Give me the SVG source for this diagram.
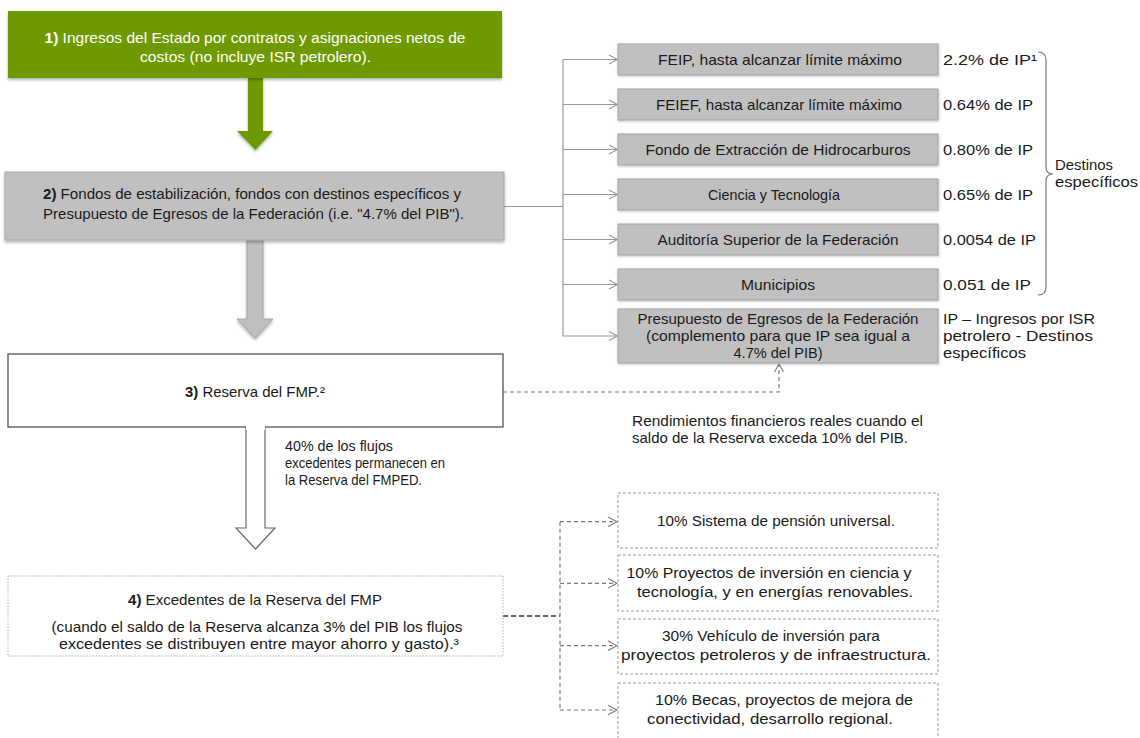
<svg xmlns="http://www.w3.org/2000/svg" width="1140" height="738" viewBox="0 0 1140 738">
<defs>
<style>
text{font-family:"Liberation Sans",Arial,sans-serif;font-size:15px;fill:#1a1a1a}
.c{text-anchor:middle}
.w{fill:#ffffff}
.b{font-weight:bold}
.gbox{fill:#c0c0c0;stroke:#a3a3a3;stroke-width:1}
.dbox{fill:#ffffff;stroke:#9c9c9c;stroke-width:1;stroke-dasharray:3 2}
.ln{fill:none;stroke:#9a9a9a;stroke-width:1.2}
.dl{fill:none;stroke:#7a7a7a;stroke-width:1.2;stroke-dasharray:4 3}
.ch{fill:none;stroke-width:1.1}
</style>
<filter id="sh" x="-5%" y="-10%" width="110%" height="140%">
<feDropShadow dx="0" dy="2" stdDeviation="1.5" flood-color="#000" flood-opacity="0.3"/>
</filter>
<filter id="sh2" x="-5%" y="-10%" width="110%" height="140%">
<feDropShadow dx="0.5" dy="1" stdDeviation="0.8" flood-color="#000" flood-opacity="0.25"/>
</filter>
</defs>
<rect width="1140" height="738" fill="#ffffff"/>

<g id="connectors">
<polygon points="248,77 263,77 263,131 273,131 255.5,150 237,131 248,131" fill="#6e9a02" filter="url(#sh)"/>
<polygon points="247,240 263,240 263,319 273,319 255,338 237,319 247,319" fill="#bfbfbf" stroke="#a5a5a5" stroke-width="1" filter="url(#sh)"/>
<path d="M246,424 L246,528 L236,528 L255.5,549 L275,528 L265,528 L265,424 Z" fill="#ffffff" stroke="none"/>
<path d="M246,427 L246,528 L236,528 L255.5,549 L275,528 L265,528 L265,427" fill="none" stroke="#6a6a6a" stroke-width="1.2"/>
<path class="ln" d="M504,206.5 H563 M563,59.5 V336 M563,59.5 H617 M563,104.5 H617 M563,149.5 H617 M563,194.5 H617 M563,239.5 H617 M563,284.5 H617 M563,336 H617"/>
<g class="ch" stroke="#9a9a9a">
<polyline points="609,55 617.5,59.5 609,64"/>
<polyline points="609,100 617.5,104.5 609,109"/>
<polyline points="609,145 617.5,149.5 609,154"/>
<polyline points="609,190 617.5,194.5 609,199"/>
<polyline points="609,235 617.5,239.5 609,244"/>
<polyline points="609,280 617.5,284.5 609,289"/>
<polyline points="609,331.5 617.5,336 609,340.5"/>
</g>
<path class="dl" d="M503,392 H779 V365"/>
<polyline class="ch" stroke="#7a7a7a" points="774.5,372 779,364 783.5,372"/>
<path d="M503,616 H560" fill="none" stroke="#333333" stroke-width="1.5" stroke-dasharray="5 3"/>
<path class="dl" d="M560,521.7 V710 M560,521.7 H616 M560,583.3 H616 M560,645.7 H616 M560,710 H616"/>
<g class="ch" stroke="#7a7a7a">
<polyline points="608,517 617,521.7 608,526.4"/>
<polyline points="608,578.6 617,583.3 608,588"/>
<polyline points="608,641 617,645.7 608,650.4"/>
<polyline points="608,705.3 617,710 608,714.7"/>
</g>
<path d="M1038,52 Q1046,52 1046,60 V167 Q1046,174 1053,174 Q1046,174 1046,181 V287 Q1046,295 1038,295" fill="none" stroke="#777777" stroke-width="1.2"/>
</g>

<g id="n1">
<rect x="8" y="11" width="494" height="67" fill="#6e9a02" filter="url(#sh)"/>
<text class="c w" x="255" y="43" textLength="421" lengthAdjust="spacingAndGlyphs"><tspan class="b w">1)</tspan> Ingresos del Estado por contratos y asignaciones netos de</text>
<text class="c w" x="255.5" y="62" textLength="231" lengthAdjust="spacingAndGlyphs">costos (no incluye ISR petrolero).</text>
</g>

<g id="n2">
<rect x="5" y="172" width="499" height="68" fill="#c0c0c0" stroke="#a8a8a8" stroke-width="1" filter="url(#sh)"/>
<text class="c" x="252" y="199" textLength="418" lengthAdjust="spacingAndGlyphs"><tspan class="b">2)</tspan> Fondos de estabilización, fondos con destinos específicos y</text>
<text class="c" x="253.5" y="219" textLength="421" lengthAdjust="spacingAndGlyphs">Presupuesto de Egresos de la Federación (i.e. "4.7% del PIB").</text>
</g>

<g id="n3">
<rect x="8" y="354" width="495" height="73" fill="#ffffff" stroke="#454545" stroke-width="1.2"/>
<text class="c" x="255" y="397" textLength="140" lengthAdjust="spacingAndGlyphs"><tspan class="b">3)</tspan> Reserva del FMP.²</text>
</g>
<path d="M246,424 L246,430 L265,430 L265,424 Z" fill="#ffffff"/>

<g id="n3note">
<text x="285" y="451" textLength="108" lengthAdjust="spacingAndGlyphs">40% de los flujos</text>
<text x="285" y="468" textLength="160" lengthAdjust="spacingAndGlyphs">excedentes permanecen en</text>
<text x="285" y="485" textLength="137" lengthAdjust="spacingAndGlyphs">la Reserva del FMPED.</text>
</g>

<g id="n4">
<rect x="8" y="576" width="495" height="80" fill="#ffffff" stroke="#b0b0b0" stroke-width="1" stroke-dasharray="1.5 1.5"/>
<text class="c" x="255" y="605" textLength="254" lengthAdjust="spacingAndGlyphs"><tspan class="b">4)</tspan> Excedentes de la Reserva del FMP</text>
<text class="c" x="257" y="632" textLength="411" lengthAdjust="spacingAndGlyphs">(cuando el saldo de la Reserva alcanza 3% del PIB los flujos</text>
<text class="c" x="259" y="649" textLength="400" lengthAdjust="spacingAndGlyphs">excedentes se distribuyen entre mayor ahorro y gasto).³</text>
</g>

<g id="r1">
<rect class="gbox" x="618" y="44" width="320" height="31" filter="url(#sh2)"/>
<text class="c" x="780" y="64.5" textLength="244" lengthAdjust="spacingAndGlyphs">FEIP, hasta alcanzar límite máximo</text>
<text x="943" y="65" textLength="94" lengthAdjust="spacingAndGlyphs">2.2% de IP¹</text>
</g>
<g id="r2">
<rect class="gbox" x="618" y="89" width="320" height="31" filter="url(#sh2)"/>
<text class="c" x="779" y="109.5" textLength="246" lengthAdjust="spacingAndGlyphs">FEIEF, hasta alcanzar límite máximo</text>
<text x="943" y="110" textLength="90" lengthAdjust="spacingAndGlyphs">0.64% de IP</text>
</g>
<g id="r3">
<rect class="gbox" x="618" y="134" width="320" height="31" filter="url(#sh2)"/>
<text class="c" x="778" y="154.5" textLength="265" lengthAdjust="spacingAndGlyphs">Fondo de Extracción de Hidrocarburos</text>
<text x="943" y="155" textLength="90" lengthAdjust="spacingAndGlyphs">0.80% de IP</text>
</g>
<g id="r4">
<rect class="gbox" x="618" y="179" width="320" height="31" filter="url(#sh2)"/>
<text class="c" x="774" y="199.5" textLength="132" lengthAdjust="spacingAndGlyphs">Ciencia y Tecnología</text>
<text x="943" y="200" textLength="90" lengthAdjust="spacingAndGlyphs">0.65% de IP</text>
</g>
<g id="r5">
<rect class="gbox" x="618" y="224" width="320" height="31" filter="url(#sh2)"/>
<text class="c" x="778" y="244.5" textLength="241" lengthAdjust="spacingAndGlyphs">Auditoría Superior de la Federación</text>
<text x="943" y="245" textLength="93" lengthAdjust="spacingAndGlyphs">0.0054 de IP</text>
</g>
<g id="r6">
<rect class="gbox" x="618" y="269" width="320" height="31" filter="url(#sh2)"/>
<text class="c" x="778" y="289.5" textLength="74" lengthAdjust="spacingAndGlyphs">Municipios</text>
<text x="943" y="290" textLength="88" lengthAdjust="spacingAndGlyphs">0.051 de IP</text>
</g>
<g id="r7">
<rect class="gbox" x="618" y="309" width="320" height="54" filter="url(#sh2)"/>
<text class="c" x="778" y="324" textLength="281" lengthAdjust="spacingAndGlyphs">Presupuesto de Egresos de la Federación</text>
<text class="c" x="778" y="341" textLength="264" lengthAdjust="spacingAndGlyphs">(complemento para que IP sea igual a</text>
<text class="c" x="778" y="358" textLength="89" lengthAdjust="spacingAndGlyphs">4.7% del PIB)</text>
<text x="943" y="324" textLength="152" lengthAdjust="spacingAndGlyphs">IP – Ingresos por ISR</text>
<text x="943" y="341" textLength="150" lengthAdjust="spacingAndGlyphs">petrolero - Destinos</text>
<text x="943" y="358" textLength="83" lengthAdjust="spacingAndGlyphs">específicos</text>
</g>

<g id="destinos">
<text x="1055" y="170" textLength="58" lengthAdjust="spacingAndGlyphs">Destinos</text>
<text x="1055" y="187" textLength="83" lengthAdjust="spacingAndGlyphs">específicos</text>
</g>

<g id="rendimientos">
<text x="632" y="426" textLength="291" lengthAdjust="spacingAndGlyphs">Rendimientos financieros reales cuando el</text>
<text x="632" y="443" textLength="276" lengthAdjust="spacingAndGlyphs">saldo de la Reserva exceda 10% del PIB.</text>
</g>

<g id="d1">
<rect class="dbox" x="618" y="493" width="320" height="55"/>
<text class="c" x="776" y="526" textLength="238" lengthAdjust="spacingAndGlyphs">10% Sistema de pensión universal.</text>
</g>
<g id="d2">
<rect class="dbox" x="618" y="555" width="320" height="56"/>
<text class="c" x="769" y="578" textLength="285" lengthAdjust="spacingAndGlyphs">10% Proyectos de inversión en ciencia y</text>
<text class="c" x="775" y="597" textLength="276" lengthAdjust="spacingAndGlyphs">tecnología, y en energías renovables.</text>
</g>
<g id="d3">
<rect class="dbox" x="618" y="619" width="320" height="55"/>
<text class="c" x="771" y="641" textLength="218" lengthAdjust="spacingAndGlyphs">30% Vehículo  de inversión para</text>
<text class="c" x="776" y="660" textLength="310" lengthAdjust="spacingAndGlyphs">proyectos petroleros y de infraestructura.</text>
</g>
<g id="d4">
<rect class="dbox" x="618" y="683" width="320" height="58"/>
<text class="c" x="784" y="705" textLength="258" lengthAdjust="spacingAndGlyphs">10% Becas, proyectos de mejora de</text>
<text class="c" x="770" y="724" textLength="246" lengthAdjust="spacingAndGlyphs">conectividad, desarrollo regional.</text>
</g>
</svg>
